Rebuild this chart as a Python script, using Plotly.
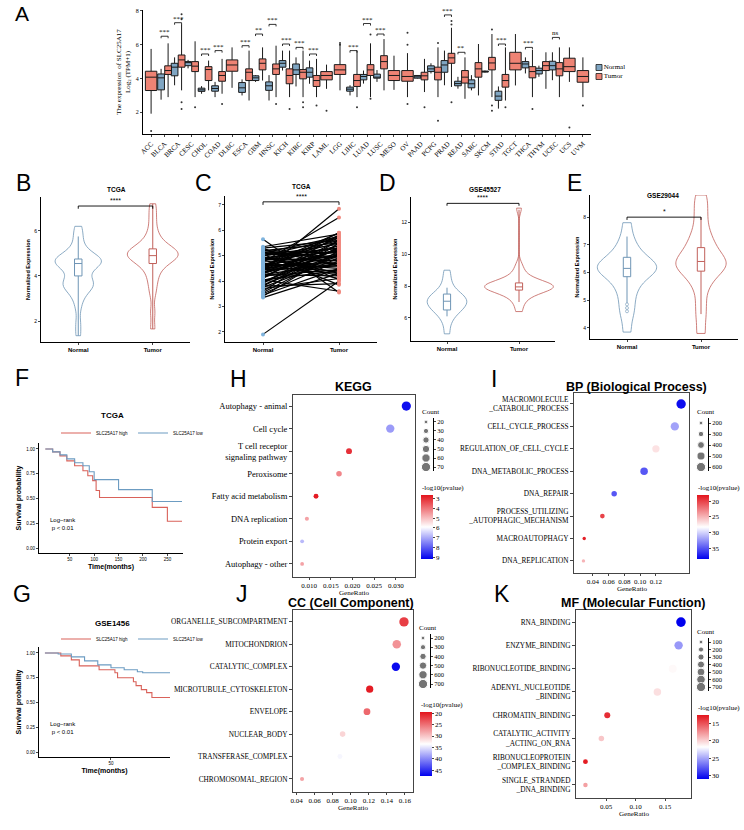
import math
import plotly.graph_objects as go

W, H = 744, 830
def fx(p): return p / W
def fy(p): return 1 - p / H

SERIF = "Liberation Serif"
SANS = "Liberation Sans"
RED_T = "#EE8374"
BLUE_N = "#7FA5C2"

# ---------------- Panel A data ----------------
cancers = ["ACC","BLCA","BRCA","CESC","CHOL","COAD","DLBC","ESCA","GBM","HNSC","KICH","KIRC","KIRP","LAML","LGG","LIHC","LUAD","LUSC","MESO","OV","PAAD","PCPG","PRAD","READ","SARC","SKCM","STAD","TGCT","THCA","THYM","UCEC","UCS","UVM"]
tumor_q1  = [3.29,4.24,4.67,4.41,3.88,3.84,4.43,3.88,4.51,4.24,3.69,3.98,3.53,3.92,4.24,3.53,4.18,4.57,3.88,3.84,3.92,3.92,4.90,3.73,4.08,4.51,3.49,4.51,4.04,4.47,4.16,4.41,3.78]
tumor_med = [4.08,4.47,5.10,4.73,4.53,4.18,4.80,4.37,4.90,4.57,4.18,4.37,3.88,4.18,4.51,3.88,4.51,5.00,4.18,4.12,4.16,4.37,5.22,4.08,4.57,4.92,3.88,4.90,4.41,4.76,4.57,4.70,4.12]
tumor_q3  = [4.43,4.75,5.39,5.00,4.70,4.41,5.10,4.57,5.16,4.86,4.57,4.53,4.18,4.41,4.82,4.24,4.82,5.35,4.47,4.47,4.37,4.67,5.49,4.47,4.94,5.25,4.24,5.55,4.70,5.00,4.94,5.20,4.47]
tumor_lo  = [1.92,2.90,3.30,2.90,3.30,3.10,3.45,2.70,3.88,2.90,2.90,2.90,2.90,3.39,3.30,2.90,2.90,3.30,3.33,2.90,3.20,2.90,3.50,2.80,3.00,2.90,2.70,3.59,2.90,3.39,2.90,3.80,2.90]
tumor_hi  = [5.75,6.08,7.20,6.20,5.06,5.16,5.84,5.65,5.84,5.94,5.65,5.65,5.16,4.82,6.04,5.65,6.08,6.33,5.35,5.50,5.16,5.84,7.00,5.25,6.04,6.63,5.84,6.63,5.69,5.55,5.84,5.84,5.25]
normal_q1  = [None,3.33,4.16,4.76,3.24,3.25,None,3.18,3.88,3.30,4.67,4.24,4.08,None,None,3.25,3.92,4.02,None,None,4.02,4.41,4.37,3.57,3.45,4.38,2.71,None,4.63,4.27,4.51,None,None]
normal_med = [None,4.04,4.67,4.94,3.33,3.41,None,3.45,4.04,3.57,4.90,4.51,4.37,None,None,3.37,4.12,4.08,None,None,4.10,4.57,4.80,3.70,3.69,4.41,2.96,None,4.86,4.47,4.76,None,None]
normal_q3  = [None,4.27,4.90,5.00,3.43,3.57,None,3.76,4.16,3.80,5.06,4.86,4.63,None,None,3.49,4.24,4.26,None,None,4.18,4.75,5.06,3.84,3.92,4.44,3.25,None,5.00,4.61,5.02,None,None]
normal_lo  = [None,2.75,3.60,4.60,3.10,2.90,None,3.00,3.80,2.70,4.47,3.53,3.69,None,None,3.00,3.70,3.80,None,None,4.00,4.30,3.60,3.40,3.30,4.35,2.22,None,4.30,4.10,3.90,None,None]
normal_hi  = [None,4.57,5.25,5.10,3.55,3.80,None,3.95,4.20,4.20,5.65,5.25,5.06,None,None,3.60,4.47,4.50,None,None,4.20,4.90,5.65,4.10,4.20,4.47,3.53,None,5.25,4.76,5.55,None,None]
tumor_out_cancer = ["ACC","BRCA","BRCA","BRCA","BRCA","CESC","COAD","HNSC","KICH","KIRC","KIRC","KIRP","LAML","LGG","LGG","LIHC","LUAD","LUAD","OV","OV","OV","PAAD","PCPG","PCPG","PRAD","PRAD","PRAD","SKCM","SKCM","SKCM","STAD","THCA","UCS","UVM"]
tumor_out_value  = [0.9,7.5,7.8,2.6,2.2,2.3,2.5,2.5,2.2,2.3,2.6,2.4,2.1,6.1,6.0,2.3,6.6,2.8,6.7,6.0,2.5,2.3,1.5,6.1,7.4,7.2,2.6,6.9,2.1,2.4,2.3,2.2,1.1,2.4]
sig_cancers = ["BLCA","BRCA","CHOL","COAD","ESCA","GBM","HNSC","KICH","KIRC","KIRP","LIHC","LUAD","LUSC","PRAD","READ","STAD","THCA","UCEC"]
sig_labels  = ["***","***","***","***","***","**","***","***","***","***","***","***","***","***","**","***","***","ns"]
sig_heights = [6.5,7.3,5.45,5.65,5.94,6.63,7.2,6.04,5.84,5.45,5.65,7.25,6.63,7.76,5.55,6.04,5.84,6.43]
groups = ["Normal", "Tumor"]

# ---------------- Panels B-E data ----------------
B_normal = [1.35,1.9,2.6,3.0,3.2,3.4,3.5,3.6,3.6,3.65,3.7,3.8,3.95,4.15,4.3,4.4,4.5,4.55,4.6,4.6,4.65,4.7,4.7,4.75,4.8,4.85,4.95,5.1,5.3,5.6,5.9,6.2]
B_tumor = [1.65,2.4,3.2,3.6,3.9,4.15,4.35,4.5,4.6,4.7,4.75,4.8,4.85,4.9,4.95,5.0,5.0,5.05,5.1,5.15,5.2,5.3,5.4,5.55,5.75,6.0,6.4,6.8,7.2]
B_normal_box = [4.0, 4.55, 4.75, 1.35, 5.75]
B_tumor_box = [4.55, 4.9, 5.2, 1.65, 7.2]

C_normal = [1.9,3.35,3.4,3.5,3.6,3.7,3.8,3.85,3.9,4.0,4.05,4.1,4.15,4.2,4.25,4.3,4.35,4.4,4.45,4.5,4.55,4.6,4.65,4.7,4.75,4.8,4.85,4.9,4.95,5.0,5.05,5.1,5.15,5.2,5.3,5.35,5.65,4.3,4.6,5.0,
            3.45,3.55,3.75,3.95,4.05,4.15,4.25,4.35,4.45,4.5,4.55,4.6,4.65,4.7,4.75,4.8,4.85,4.9,4.95,5.0,5.1,5.2,5.25,5.3,4.4,4.2,4.0,3.8,4.6,4.9]
C_tumor  = [4.0,4.3,5.2,4.8,5.5,4.1,3.9,5.0,5.6,4.7,3.6,5.8,4.9,5.3,4.2,5.1,5.4,6.85,4.6,5.7,4.4,5.9,5.0,4.5,6.5,5.2,5.6,4.8,4.3,5.3,3.85,5.75,4.95,5.5,4.05,5.85,3.55,5.25,4.7,5.45,
            4.5,5.1,4.9,5.3,4.4,5.6,4.7,5.0,5.2,4.3,5.8,4.6,5.4,4.1,5.0,5.5,4.8,5.3,4.2,5.7,4.9,5.1,4.6,5.6,5.9,4.45,5.05,5.35,4.75,5.15]

D_normal = [5.0,5.6,6.0,6.2,6.4,6.5,6.6,6.7,6.8,6.9,7.0,7.05,7.1,7.2,7.3,7.4,7.5,7.6,7.8,8.1,8.5,9.0]
D_tumor = [6.4,6.9,7.2,7.4,7.55,7.7,7.75,7.8,7.85,7.9,7.9,7.95,8.0,8.0,8.0,8.05,8.1,8.15,8.2,8.3,8.45,8.6,8.9,9.3,12.9]
D_normal_box = [6.5, 7.05, 7.5, 6.1, 7.9]
D_tumor_box = [7.75, 7.95, 8.2, 7.0, 12.8]

E_normal = [3.85,4.4,4.7,5.0,5.3,5.5,5.7,5.85,5.95,6.05,6.1,6.15,6.2,6.25,6.3,6.4,6.5,6.6,6.8,7.0,7.3,7.8]
E_tumor = [3.8,4.4,4.9,5.4,5.7,5.9,6.05,6.15,6.25,6.3,6.4,6.5,6.6,6.75,6.9,7.1,7.3,7.6,8.0,8.4,8.8]
E_normal_box = [5.85, 6.15, 6.55, 4.9, 7.3]
E_tumor_box = [6.05, 6.4, 6.9, 4.5, 8.0]
E_normal_out = [4.6, 4.72, 4.85]

# ---------------- KM data ----------------
F_high_t = [0,15,30,44,60,77,87,97,104,111,219,250,280]
F_high_s = [1.0,0.97,0.93,0.88,0.83,0.78,0.73,0.68,0.58,0.51,0.41,0.27,0.27]
F_low_t = [0,15,30,44,60,77,90,100,150,219,280]
F_low_s = [1.0,0.97,0.94,0.90,0.86,0.83,0.77,0.69,0.59,0.47,0.47]
G_high_t = [0,12,20,26,41,53,55,67,69,73,77,81,95]
G_high_s = [1.0,0.97,0.93,0.87,0.83,0.80,0.75,0.71,0.67,0.63,0.60,0.55,0.55]
G_low_t = [0,10,20,30,40,50,60,70,74,95]
G_low_s = [1.0,0.99,0.96,0.92,0.88,0.85,0.83,0.81,0.80,0.80]

# ---------------- Enrichment data ----------------
kegg_terms = ["Autophagy - animal","Cell cycle","T cell receptor<br>signaling pathway","Peroxisome","Fatty acid metabolism","DNA replication","Protein export","Autophagy - other"]
kegg_ratio = [0.0324,0.0287,0.0192,0.0169,0.0116,0.0095,0.0084,0.0084]
kegg_count = [70,60,36,33,28,22,20,20]
kegg_logp = [9.0,7.2,3.0,4.2,2.7,4.6,6.8,4.6]
kegg_breaks = [20,30,40,50,60,70]
kegg_cticks = [3,4,5,6,7,8,9]

bp_terms = ["MACROMOLECULE<br>_CATABOLIC_PROCESS","CELL_CYCLE_PROCESS","REGULATION_OF_CELL_CYCLE","DNA_METABOLIC_PROCESS","DNA_REPAIR","PROCESS_UTILIZING<br>_AUTOPHAGIC_MECHANISM","MACROAUTOPHAGY","DNA_REPLICATION"]
bp_ratio = [0.152,0.144,0.120,0.105,0.067,0.052,0.029,0.028]
bp_count = [620,520,430,450,300,250,180,180]
bp_logp = [38,32,27,35,35,20,18.5,25]
bp_breaks = [200,300,400,500,600]
bp_cticks = [20,25,30,35]

cc_terms = ["ORGANELLE_SUBCOMPARTMENT","MITOCHONDRION","CATALYTIC_COMPLEX","MICROTUBULE_CYTOSKELETON","ENVELOPE","NUCLEAR_BODY","TRANSFERASE_COMPLEX","CHROMOSOMAL_REGION"]
cc_ratio = [0.159,0.151,0.150,0.121,0.118,0.091,0.088,0.046]
cc_count = [720,620,600,480,440,330,280,220]
cc_logp = [22,27,47,20,24.5,31,34,28]
cc_breaks = [200,300,400,500,600,700]
cc_cticks = [20,25,30,35,40,45]

mf_terms = ["RNA_BINDING","ENZYME_BINDING","RIBONUCLEOTIDE_BINDING","ADENYL_NUCLEOTIDE<br>_BINDING","CHROMATIN_BINDING","CATALYTIC_ACTIVITY<br>_ACTING_ON_RNA","RIBONUCLEOPROTEIN<br>_COMPLEX_BINDING","SINGLE_STRANDED<br>_DNA_BINDING"]
mf_ratio = [0.177,0.173,0.163,0.137,0.052,0.042,0.015,0.015]
mf_count = [760,580,520,450,280,230,170,150]
mf_logp = [31,25.5,21.5,20.5,13.5,19.5,12.8,18]
mf_breaks = [100,200,300,400,500,600,700]
mf_cticks = [15,20,25,30]

# =====================================================
fig = go.Figure()
layout = dict(width=W, height=H, margin=dict(l=0, r=0, t=0, b=0),
              paper_bgcolor="white", plot_bgcolor="white",
              boxmode="overlay", violinmode="overlay", hovermode=False,
              font=dict(family=SANS, size=7, color="black"))
annots = []

BASE = dict(showline=True, linecolor="black", linewidth=1, ticks="outside", ticklen=3,
            tickwidth=1, showgrid=False, zeroline=False, automargin=False)

def axis_pair(n, xd, yd, xkw, ykw):
    sx = "" if n == 1 else str(n)
    layout["xaxis" + sx] = {**BASE, "domain": [fx(xd[0]), fx(xd[1])], "anchor": "y" + sx, **xkw}
    layout["yaxis" + sx] = {**BASE, "domain": [fy(yd[1]), fy(yd[0])], "anchor": "x" + sx, **ykw}

def refs(n):
    return ("x", "y") if n == 1 else ("x%d" % n, "y%d" % n)

def letter(t, x, y, size=23):
    annots.append(dict(text=t, x=fx(x), y=fy(y), xref="paper", yref="paper", showarrow=False,
                       xanchor="center", yanchor="middle", font=dict(family=SANS, size=size)))

def ptext(t, x, y, size=7, family=SANS, anchor="center"):
    annots.append(dict(text=t, x=fx(x), y=fy(y), xref="paper", yref="paper", showarrow=False,
                       xanchor=anchor, yanchor="middle", font=dict(family=family, size=size)))

# ---------------- Panel A ----------------
OFF = 0.26
paired = [i for i, v in enumerate(normal_med) if v is not None]
single = [i for i, v in enumerate(normal_med) if v is None]
def pick(arr, idx): return [arr[i] for i in idx]

box_common = dict(line=dict(color="#1a1a1a", width=1), whiskerwidth=0, boxpoints=False, xaxis="x", yaxis="y",
                  showlegend=False)
fig.add_trace(go.Box(x=[i - OFF for i in paired], q1=pick(normal_q1, paired), median=pick(normal_med, paired),
                     q3=pick(normal_q3, paired), lowerfence=pick(normal_lo, paired), upperfence=pick(normal_hi, paired),
                     width=0.5, fillcolor=BLUE_N, name="Normal", **box_common))
fig.add_trace(go.Box(x=[i + OFF for i in paired], q1=pick(tumor_q1, paired), median=pick(tumor_med, paired),
                     q3=pick(tumor_q3, paired), lowerfence=pick(tumor_lo, paired), upperfence=pick(tumor_hi, paired),
                     width=0.5, fillcolor=RED_T, name="Tumor", **box_common))
fig.add_trace(go.Box(x=single, q1=pick(tumor_q1, single), median=pick(tumor_med, single),
                     q3=pick(tumor_q3, single), lowerfence=pick(tumor_lo, single), upperfence=pick(tumor_hi, single),
                     width=0.85, fillcolor=RED_T, name="Tumor", **box_common))
ox = []
for c in tumor_out_cancer:
    i = cancers.index(c)
    ox.append(i + OFF if i in paired else i)
fig.add_trace(go.Scatter(x=ox, y=tumor_out_value, mode="markers", marker=dict(size=2, color="#333"),
                         showlegend=False, xaxis="x", yaxis="y"))
bx, by = [], []
for c, lab, h in zip(sig_cancers, sig_labels, sig_heights):
    i = cancers.index(c)
    bx += [i - OFF, i - OFF, i + OFF, i + OFF, None]
    by += [h - 0.12, h, h, h - 0.12, None]
    annots.append(dict(text=lab, x=i, y=h, xref="x", yref="y", yanchor="bottom", showarrow=False,
                       yshift=-2, font=dict(family=SERIF, size=7)))
fig.add_trace(go.Scatter(x=bx, y=by, mode="lines", line=dict(color="black", width=0.8),
                         showlegend=False, xaxis="x", yaxis="y"))
axis_pair(1, (143, 591), (10, 134),
          dict(range=[-0.6, 32.6], tickvals=list(range(len(cancers))), ticktext=cancers, tickangle=-45,
               tickfont=dict(family=SERIF, size=7), ticklen=2),
          dict(range=[0.72, 8.05], tickvals=[2, 4, 6, 8], tickfont=dict(family=SERIF, size=6), ticklen=2,
               title=dict(text="The expression  of SLC25A17<br>Log<sub>2</sub> (TPM+1)",
                          font=dict(family=SERIF, size=7), standoff=4)))
# manual legend for panel A
fig.add_trace(go.Scatter(x=[0, 0], y=groups, mode="markers+text", text=groups, textposition="middle right",
                         textfont=dict(family=SERIF, size=7), cliponaxis=False,
                         marker=dict(symbol="square", size=6, color=[BLUE_N, RED_T],
                                     line=dict(color="#1a1a1a", width=0.8)),
                         showlegend=False, xaxis="x16", yaxis="y16"))
axis_pair(16, (594, 604), (63, 81), dict(range=[-1, 1], visible=False),
          dict(type="category", categoryorder="array", categoryarray=groups, range=[1.5, -0.5], visible=False))
letter("A", 22, 13, size=21)

# ---------------- Panels B-E ----------------
VBLUE = "#6F95B5"
VRED = "#C1605A"

def violin_panel(n, nvals, tvals, nbox, tbox, nw, tw, bw, xd, yd, yrange, yticks, title, title_xy,
                 stars, bracket_h, bracket_d, letter_txt, letter_xy):
    xr, yr = refs(n)
    fig.add_trace(go.Violin(x=["Normal"] * len(nvals), y=nvals, line=dict(color=VBLUE, width=0.8),
                            fillcolor="rgba(255,255,255,0)", points=False, spanmode="hard", bandwidth=bw,
                            width=nw, showlegend=False, xaxis=xr, yaxis=yr))
    fig.add_trace(go.Violin(x=["Tumor"] * len(tvals), y=tvals, line=dict(color=VRED, width=0.8),
                            fillcolor="rgba(255,255,255,0)", points=False, spanmode="hard", bandwidth=bw,
                            width=tw, showlegend=False, xaxis=xr, yaxis=yr))
    for cat, st, col in (("Normal", nbox, VBLUE), ("Tumor", tbox, VRED)):
        fig.add_trace(go.Box(x=[cat], q1=[st[0]], median=[st[1]], q3=[st[2]], lowerfence=[st[3]],
                             upperfence=[st[4]], width=0.1, fillcolor="rgba(255,255,255,0)",
                             line=dict(color=col, width=1), whiskerwidth=0, boxpoints=False,
                             showlegend=False, xaxis=xr, yaxis=yr))
    fig.add_trace(go.Scatter(x=["Normal", "Normal", "Tumor", "Tumor"],
                             y=[bracket_h - bracket_d, bracket_h, bracket_h, bracket_h - bracket_d],
                             mode="lines", line=dict(color="black", width=0.9), showlegend=False,
                             xaxis=xr, yaxis=yr))
    annots.append(dict(text=stars, x=0.5, y=bracket_h, xref=xr, yref=yr, yanchor="bottom", showarrow=False,
                       font=dict(family=SANS, size=7)))
    axis_pair(n, xd, yd,
              dict(type="category", range=[-0.5, 1.5], categoryorder="array", categoryarray=groups,
                   tickvals=groups, ticktext=["<b>Normal</b>", "<b>Tumor</b>"],
                   tickfont=dict(size=6), ticklen=2),
              dict(range=yrange, tickvals=yticks, tickfont=dict(size=5), ticklen=2,
                   title=dict(text="<b>Normalized Expression</b>", font=dict(size=5.5), standoff=3)))
    ptext("<b>" + title + "</b>", title_xy[0], title_xy[1], size=6.5)
    letter(letter_txt, letter_xy[0], letter_xy[1])

violin_panel(2, B_normal, B_tumor, B_normal_box, B_tumor_box, 0.62, 0.68, 0.3, (41, 190), (197, 342),
             [1.07, 7.5], [2, 4, 6], "TCGA", (116, 189), "****", 7.1, 0.12, "B", (23, 183))
violin_panel(4, D_normal, D_tumor, D_normal_box, D_tumor_box, 0.55, 0.95, 0.33, (411, 555), (197, 341),
             [4.55, 13.6], [6, 8, 10, 12], "GSE45527", (485, 189), "****", 13.2, 0.15, "D", (387, 183))
violin_panel(5, E_normal, E_tumor, E_normal_box, E_tumor_box, 0.8, 0.68, 0.3, (590, 738), (195, 339),
             [3.6, 8.8], [4, 5, 6, 7, 8], "GSE29044", (663, 196), "*", 8.0, 0.1, "E", (574, 183))
fig.add_trace(go.Scatter(x=["Normal"] * len(E_normal_out), y=E_normal_out, mode="markers",
                         marker=dict(size=3, color="rgba(0,0,0,0)", line=dict(color=VBLUE, width=0.6)),
                         showlegend=False, xaxis="x5", yaxis="y5"))

# Panel C
lx, ly = [], []
for a, b in zip(C_normal, C_tumor):
    lx += ["Normal", "Tumor", None]
    ly += [a, b, None]
fig.add_trace(go.Scatter(x=lx, y=ly, mode="lines", line=dict(color="black", width=1.2), showlegend=False,
                         xaxis="x3", yaxis="y3", connectgaps=False))
fig.add_trace(go.Scatter(x=["Normal"] * len(C_normal), y=C_normal, mode="markers",
                         marker=dict(size=4, color="#7EB3DD"), showlegend=False, xaxis="x3", yaxis="y3"))
fig.add_trace(go.Scatter(x=["Tumor"] * len(C_tumor), y=C_tumor, mode="markers",
                         marker=dict(size=4, color="#F08A80"), showlegend=False, xaxis="x3", yaxis="y3"))
fig.add_trace(go.Scatter(x=["Normal", "Normal", "Tumor", "Tumor"], y=[7.0, 7.12, 7.12, 7.0], mode="lines",
                         line=dict(color="black", width=0.9), showlegend=False, xaxis="x3", yaxis="y3"))
annots.append(dict(text="****", x=0.5, y=7.12, xref="x3", yref="y3", yanchor="bottom", showarrow=False,
                   font=dict(family=SANS, size=7)))
axis_pair(3, (225, 377), (196, 342),
          dict(type="category", range=[-0.5, 1.5], categoryorder="array", categoryarray=groups,
               tickvals=groups, ticktext=["<b>Normal</b>", "<b>Tumor</b>"], tickfont=dict(size=6),
               ticklen=2),
          dict(range=[1.6, 7.35], tickvals=[2, 3, 4, 5, 6, 7], tickfont=dict(size=5), ticklen=2,
               title=dict(text="<b>Normalized Expression</b>", font=dict(size=5.5), standoff=3)))
ptext("<b>TCGA</b>", 301, 187, size=6.5)
letter("C", 204, 183)

# ---------------- KM panels ----------------
KRED = "#D9625A"
KBLUE = "#6C9CC2"

def km_panel(n, ht, hs, lt, ls, xd, yd, xrange, xticks, title, title_y, leg_name, leg_y, letter_txt, letter_y, lr_y):
    xr, yr = refs(n)
    fig.add_trace(go.Scatter(x=ht, y=hs, mode="lines", line=dict(color=KRED, width=1.1, shape="hv"),
                             name="SLC25A17 high", legend=leg_name, xaxis=xr, yaxis=yr))
    fig.add_trace(go.Scatter(x=lt, y=ls, mode="lines", line=dict(color=KBLUE, width=1.1, shape="hv"),
                             name="SLC25A17 low", legend=leg_name, xaxis=xr, yaxis=yr))
    axis_pair(n, xd, yd,
              dict(range=xrange, tickvals=xticks, tickfont=dict(size=4.5), ticklen=2,
                   title=dict(text="<b>Time(months)</b>", font=dict(size=7), standoff=2)),
              dict(range=[-0.05, 1.06], tickvals=[0, 0.25, 0.5, 0.75, 1.0],
                   ticktext=["0.00", "0.25", "0.50", "0.75", "1.00"], tickfont=dict(size=4.5), ticklen=2,
                   title=dict(text="<b>Survival probability</b>", font=dict(size=7), standoff=3)))
    layout[leg_name] = dict(x=fx(56), y=fy(leg_y), xanchor="left", yanchor="middle", orientation="h",
                            bgcolor="rgba(0,0,0,0)", font=dict(size=4.5), itemwidth=30)
    ptext("<b>" + title + "</b>", 112, title_y, size=8)
    ptext("Log\u2212rank<br>p < 0.01", 48, lr_y, size=6, anchor="left")
    letter(letter_txt, 22, letter_y)

km_panel(6, F_high_t, F_high_s, F_low_t, F_low_s, (39, 183), (443, 553), [-13, 282],
         [50, 100, 150, 200, 250], "TCGA", 415, "legend2", 433, "F", 378, 524)
km_panel(7, G_high_t, G_high_s, G_low_t, G_low_s, (39, 170), (647, 757), [-4.5, 94.7],
         [50], "GSE1456", 623, "legend3", 639, "G", 594, 728)

# ---------------- Enrichment dot plots ----------------
CSCALE = [[0, "#0000EE"], [0.5, "#FFFFFF"], [1, "#E3141C"]]

def dot_size(c, breaks):
    lo, hi = min(breaks), max(breaks)
    return 3.8 + 5.4 * (math.sqrt(c) - math.sqrt(lo)) / (math.sqrt(hi) - math.sqrt(lo))

def dot_panel(n, terms, ratio, count, logp, breaks, cticks, crange, cax, xd, yd, xrange, xticks, xfmt,
              yrng, label_size, title, title_xy, cbar_xy, leg_n, leg_xd, leg_yd, leg_range, letter_txt, letter_xy):
    xr, yr = refs(n)
    fig.add_trace(go.Scatter(x=ratio, y=terms, mode="markers",
                             marker=dict(size=[dot_size(c, breaks) for c in count], color=[-v for v in logp],
                                         coloraxis=cax, line=dict(width=0), opacity=1),
                             showlegend=False, xaxis=xr, yaxis=yr))
    axis_pair(n, xd, yd,
              dict(range=xrange, tickvals=xticks, tickformat=xfmt, mirror=True, linecolor="#444",
                   tickfont=dict(family=SERIF, size=7), ticklen=2),
              dict(type="category", categoryorder="array", categoryarray=terms, range=yrng, mirror=True,
                   linecolor="#444", tickfont=dict(family=SERIF, size=label_size), ticklen=3))
    ptext("GeneRatio", (xd[0] + xd[1]) / 2, yd[1] + 16, size=7, family=SERIF)
    layout[cax] = dict(cmin=-crange[1], cmax=-crange[0], colorscale=CSCALE,
                       colorbar=dict(x=fx(cbar_xy[0]), xanchor="left", y=fy(cbar_xy[1]), yanchor="top",
                                     len=64, lenmode="pixels", thickness=12, thicknessmode="pixels",
                                     xpad=0, ypad=0, outlinewidth=0,
                                     tickvals=[-t for t in cticks], ticktext=[str(t) for t in cticks],
                                     ticks="outside", ticklen=2, tickfont=dict(family=SERIF, size=7)))
    ptext("-log10(pvalue)", cbar_xy[0] - 1, cbar_xy[1] - 7, size=7, family=SERIF, anchor="left")
    lxr, lyr = refs(leg_n)
    fig.add_trace(go.Scatter(x=[0] * len(breaks), y=breaks, mode="markers",
                             marker=dict(size=[dot_size(c, breaks) for c in breaks], color="#3a3a3a"),
                             showlegend=False, xaxis=lxr, yaxis=lyr))
    axis_pair(leg_n, leg_xd, leg_yd,
              dict(range=[-1, 1], visible=False),
              dict(range=leg_range, side="right", tickvals=breaks, tickfont=dict(family=SERIF, size=6.5),
                   ticklen=2, linewidth=0.8))
    ptext("Count", leg_xd[0] + 1, leg_yd[0] - 6, size=7, family=SERIF, anchor="left")
    ptext("<b>" + title + "</b>", title_xy[0], title_xy[1], size=12.5)
    letter(letter_txt, letter_xy[0], letter_xy[1])

dot_panel(8, kegg_terms, kegg_ratio, kegg_count, kegg_logp, kegg_breaks, kegg_cticks, (2.6, 9.2), "coloraxis",
          (293, 415), (395, 577), [0.0063, 0.0344], [0.010, 0.015, 0.020, 0.025, 0.030], ".3f",
          [7.58, -0.49], 8.5, "KEGG", (353, 387), (421, 495), 12, (419, 433), (418, 471), [74.4, 15.6],
          "H", (238, 379))
dot_panel(9, bp_terms, bp_ratio, bp_count, bp_logp, bp_breaks, bp_cticks, (18, 38.5), "coloraxis2",
          (574, 689), (393, 573), [0.016, 0.162], [0.04, 0.06, 0.08, 0.10, 0.12], ".2f",
          [7.54, -0.49], 7.3, "BP (Biological Process)", (636, 387), (697, 495), 13, (694, 708), (418, 471),
          [636, 154.5], "I", (494, 379))
dot_panel(10, cc_terms, cc_ratio, cc_count, cc_logp, cc_breaks, cc_cticks, (19.5, 47.5), "coloraxis3",
          (293, 413), (610, 792), [0.036, 0.169], [0.04, 0.06, 0.08, 0.10, 0.12, 0.14, 0.16], ".2f",
          [7.58, -0.53], 7.3, "CC (Cell Component)", (351, 603), (420, 712), 14, (416, 430), (634, 688),
          [743.5, 156.5], "J", (242, 594))
dot_panel(11, mf_terms, mf_ratio, mf_count, mf_logp, mf_breaks, mf_cticks, (12.5, 31), "coloraxis4",
          (576, 691), (610, 798), [-0.001, 0.194], [0.05, 0.10, 0.15], ".2f",
          [7.56, -0.52], 7.3, "MF (Molecular Function)", (633, 603), (697, 715), 15, (694, 708), (638, 691),
          [753, 46.7], "K", (502, 594))

layout["annotations"] = annots
fig.update_layout(**layout)
fig.write_html("out.html", config={"displayModeBar": False},
               post_script="document.body.style.margin='0px';")
